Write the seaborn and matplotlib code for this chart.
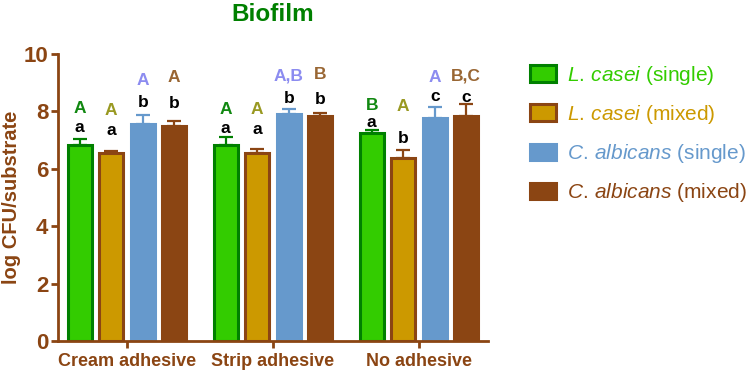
import numpy as np
import pandas as pd
import seaborn as sns
import matplotlib.pyplot as plt
from matplotlib.patches import Patch

# -------------------------------
# Data
# -------------------------------
sites = ['Cream adhesive', 'Strip adhesive', 'No adhesive']
groups = ['L. casei (single)', 'L. casei (mixed)', 'C. albicans (single)', 'C. albicans (mixed)']

lc_single = [6.83, 6.83, 7.24]
lc_mixed = [6.54, 6.55, 6.39]
ca_single = [7.55, 7.90, 7.75]
ca_mixed = [7.48, 7.84, 7.84]

lc_single_err = [0.22, 0.26, 0.10]
lc_mixed_err = [0.08, 0.12, 0.26]
ca_single_err = [0.32, 0.18, 0.41]
ca_mixed_err = [0.17, 0.11, 0.40]

# significance letters (per site: one per group) and the heights they sit at
lower_letters = [['a', 'a', 'b', 'b'], ['a', 'a', 'b', 'b'], ['a', 'b', 'c', 'c']]
upper_letters = [['A', 'A', 'A', 'A'], ['A', 'A', 'A,B', 'B'], ['B', 'A', 'A', 'B,C']]
lower_y = [[7.45, 7.34, 8.31, 8.26], [7.41, 7.35, 8.46, 8.40], [7.61, 7.06, 8.52, 8.48]]
upper_y = [[8.15, 8.08, 9.14, 9.23], [8.13, 8.13, 9.30, 9.34], [8.25, 8.23, 9.22, 9.30]]

values = [lc_single, lc_mixed, ca_single, ca_mixed]
errors = [lc_single_err, lc_mixed_err, ca_single_err, ca_mixed_err]

rows = []
for g, vals in zip(groups, values):
    for s, v in zip(sites, vals):
        rows.append({'site': s, 'group': g, 'value': v})
df = pd.DataFrame(rows)

# -------------------------------
# Styling
# -------------------------------
axis_col = '#8B4513'
fills = ['#33CC00', '#CC9900', '#6699CC', '#8B4513']
edges = ['#008000', '#8B4513', '#6699CC', '#8B4513']
upper_cols = ['#118811', '#999922', '#8C8CF0', '#996633']

sns.set_style('white')
plt.rcParams['font.family'] = ['Liberation Sans', 'DejaVu Sans']
plt.rcParams['mathtext.fontset'] = 'custom'
plt.rcParams['mathtext.it'] = 'Liberation Sans:italic'
plt.rcParams['mathtext.rm'] = 'Liberation Sans'

fig = plt.figure(figsize=(7.48, 3.70), dpi=100)
ax = fig.add_axes([0.0775, 0.0784, 0.575, 0.776])

sns.barplot(data=df, x='site', y='value', hue='group', order=sites, hue_order=groups,
            palette=fills, saturation=1, errorbar=None, width=0.863, gap=0.24,
            legend=False, ax=ax)

bar_conts = list(ax.containers)
for i, cont in enumerate(bar_conts):
    xs = []
    for bar in cont:
        bar.set_edgecolor(edges[i])
        bar.set_linewidth(2.2)
        xs.append(bar.get_x() + bar.get_width() / 2)
    xs = np.array(xs)
    ax.errorbar(xs, values[i], yerr=[np.zeros(3), errors[i]], fmt='none',
                ecolor=edges[i], elinewidth=1.6, capsize=5, capthick=1.6, zorder=1)
    for j, x in enumerate(xs):
        ax.text(x, lower_y[j][i], lower_letters[j][i], ha='center', va='center',
                fontsize=12.5, fontweight='bold', color='black')
        ax.text(x, upper_y[j][i] - 0.06, upper_letters[j][i], ha='center', va='center',
                fontsize=12.5, fontweight='bold', color=upper_cols[i])

ax.set_xlim(-0.473, 2.473)
ax.set_ylim(0, 10)
ax.set_yticks([0, 2, 4, 6, 8, 10])
ax.set_xlabel('')
ax.set_ylabel('log CFU/substrate', fontsize=14.5, fontweight='bold', color=axis_col, labelpad=2)
ax.set_title('Biofilm', fontsize=17.5, fontweight='bold', color='#008000', pad=24)

for side in ['top', 'right']:
    ax.spines[side].set_visible(False)
for side in ['left', 'bottom']:
    ax.spines[side].set_color(axis_col)
    ax.spines[side].set_linewidth(2)
ax.tick_params(axis='both', colors=axis_col, width=2, length=5, direction='out',
               left=True, bottom=True, pad=2)
ax.tick_params(axis='y', labelsize=16)
ax.tick_params(axis='x', labelsize=13, pad=4)
for lab in ax.get_xticklabels() + ax.get_yticklabels():
    lab.set_fontweight('bold')

# -------------------------------
# Legend
# -------------------------------
leg_labels = [r'$\mathit{L.\,casei}$ (single)', r'$\mathit{L.\,casei}$ (mixed)',
              r'$\mathit{C.\,albicans}$ (single)', r'$\mathit{C.\,albicans}$ (mixed)']
handles = [Patch(facecolor=fills[i], edgecolor=edges[i], linewidth=2.2) for i in range(4)]
leg = fig.legend(handles, leg_labels, loc='upper left', bbox_to_anchor=(0.708, 0.828),
                 frameon=False, fontsize=15, handlelength=1.25, handleheight=0.85,
                 labelspacing=0.78, handletextpad=0.55, borderpad=0, borderaxespad=0)
for t, c in zip(leg.get_texts(), fills):
    t.set_color(c)

fig.savefig('out.png', dpi=100)
